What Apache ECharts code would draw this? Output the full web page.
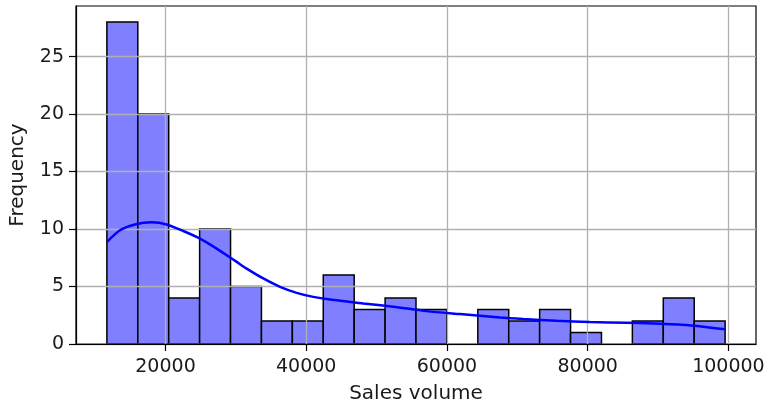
<!DOCTYPE html>
<html>
<head>
<meta charset="utf-8">
<script src="https://cdn.jsdelivr.net/npm/echarts@6/dist/echarts.min.js"></script>
<style>
  html, body { margin: 0; padding: 0; background: #fff; }
  #chart { width: 767px; height: 406px; }
</style>
</head>
<body>
<div id="chart"></div>
<script>
// Histogram bin edges (sales volume) and the count in each bin
const binEdges = [11670, 16063, 20456, 24849, 29242, 33635, 38028, 42421, 46814, 51207,
                  55600, 59993, 64386, 68779, 73172, 77565, 81958, 86351, 90744, 95137, 99530];
const binCounts = [28, 20, 4, 10, 5, 2, 2, 6, 3, 4, 3, 0, 3, 2, 3, 1, 0, 2, 4, 2];

// Density estimate, scaled to counts: [sales volume, frequency]
const kdeX = [11670, 13530, 15660, 18040, 20170, 22530, 24900, 27270, 30120, 31540, 33900,
              36270, 38640, 41000, 43370, 48100, 52370, 57110, 61850, 67530, 70840, 75590,
              80320, 85530, 89310, 94060, 99260, 99530];
const kdeY = [8.87, 9.89, 10.4, 10.58, 10.4, 9.83, 9.17, 8.3, 7.14, 6.56, 5.7,
              4.97, 4.45, 4.1, 3.87, 3.53, 3.24, 2.86, 2.6, 2.3, 2.17, 2.02,
              1.91, 1.85, 1.79, 1.65, 1.3, 1.27];

// Tick labels
const xTicks = [20000, 40000, 60000, 80000, 100000];
const yTicks = [0, 5, 10, 15, 20, 25];

const histData = binCounts.map((c, i) => [binEdges[i], binEdges[i + 1], c]);
const kdeData = kdeX.map((x, i) => [x, kdeY[i]]);

const font = 'DejaVu Sans';
const textColor = '#1a1a1a';
const gridColor = '#b0b0b0';

const chart = echarts.init(document.getElementById('chart'), null, { renderer: 'canvas' });
chart.setOption({
  animation: false,
  backgroundColor: '#ffffff',
  grid: {
    left: 76, right: 11, top: 6, bottom: 62,
    outerBoundsMode: 'none',
    containLabel: false,
    show: true, borderColor: '#000', borderWidth: 1.2, backgroundColor: 'transparent'
  },
  xAxis: {
    type: 'value',
    min: 7280, max: 103920,
    name: 'Sales volume',
    nameLocation: 'middle',
    nameGap: 40,
    nameTextStyle: { fontFamily: font, fontSize: 20, color: textColor },
    axisLine: { show: true, lineStyle: { color: '#000', width: 1.2 } },
    axisTick: { show: true, length: 7, customValues: xTicks, lineStyle: { color: '#000', width: 1.2 } },
    axisLabel: {
      customValues: xTicks, margin: 14, fontFamily: font, fontSize: 19, color: textColor,
      formatter: v => String(v)
    },
    splitLine: { show: true, lineStyle: { color: gridColor, width: 1.3 } }
  },
  yAxis: {
    type: 'value',
    min: 0, max: 29.4,
    name: 'Frequency',
    nameLocation: 'middle',
    nameGap: 48,
    nameTextStyle: { fontFamily: font, fontSize: 20, color: textColor },
    axisLine: { show: true, lineStyle: { color: '#000', width: 1.2 } },
    axisTick: { show: true, length: 7, customValues: yTicks, lineStyle: { color: '#000', width: 1.2 } },
    axisLabel: { customValues: yTicks, margin: 12, fontFamily: font, fontSize: 19, color: textColor },
    splitLine: { show: true, lineStyle: { color: gridColor, width: 1.3 } }
  },
  series: [
    {
      type: 'custom',
      z: -1,
      data: histData,
      encode: { x: [0, 1], y: 2 },
      renderItem: function (params, api) {
        const p0 = api.coord([api.value(0), 0]);
        const p1 = api.coord([api.value(1), api.value(2)]);
        if (api.value(2) <= 0) return null;
        return {
          type: 'rect',
          shape: { x: p0[0], y: p1[1], width: p1[0] - p0[0], height: p0[1] - p1[1] },
          style: { fill: '#8080ff', stroke: '#000', lineWidth: 1.5 }
        };
      }
    },
    {
      type: 'line',
      z: 5,
      data: kdeData,
      smooth: 0.25,
      showSymbol: false,
      lineStyle: { color: '#0000ff', width: 2.5 }
    }
  ]
});
</script>
</body>
</html>
